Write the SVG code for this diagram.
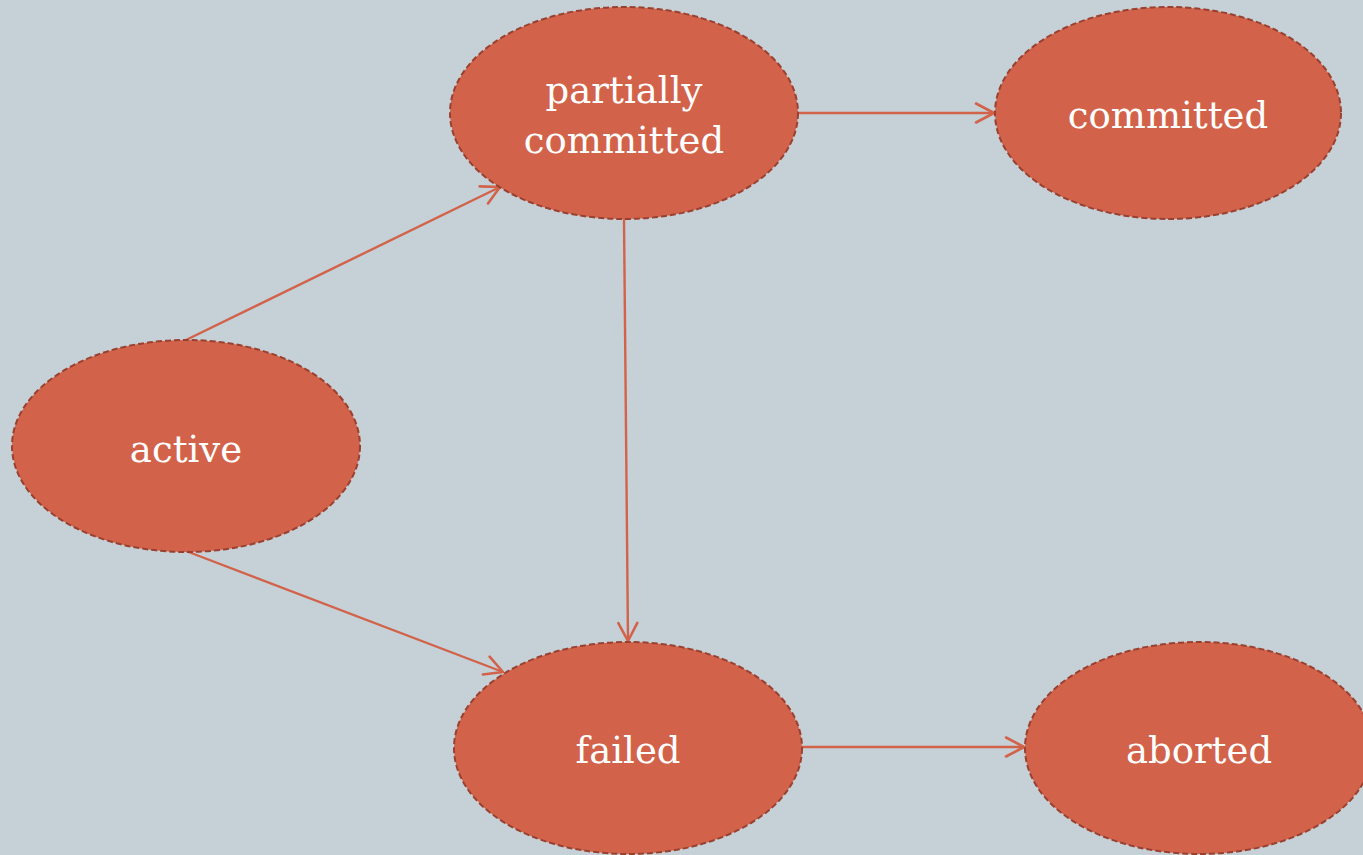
<svg xmlns="http://www.w3.org/2000/svg" width="1363" height="855" viewBox="0 0 1363 855">
  <style>
    .state ellipse { fill: #D2634A; stroke: #9A4030; stroke-width: 2; stroke-dasharray: 6 3; }
    .state text { fill: #FFFFFF; font-family: "DejaVu Serif", "Liberation Serif", serif; font-size: 37px; text-anchor: middle; }
    .edge { stroke: #D2634A; stroke-width: 2.4; fill: none; marker-end: url(#open-arrow); }
  </style>
  <defs>
    <!-- open chevron arrowhead, drawn in user units -->
    <marker id="open-arrow" viewBox="0 0 22 22" refX="20" refY="11" markerWidth="22" markerHeight="22" markerUnits="userSpaceOnUse" orient="auto" overflow="visible">
      <path d="M2,1.5 L20,11 L2,20.5" fill="none" stroke="#D2634A" stroke-width="2.6" stroke-linecap="round" stroke-linejoin="round"/>
    </marker>
  </defs>
  <rect width="1363" height="855" fill="#C5D1D7"/>

  <g id="connectors">
    <line class="edge" x1="186" y1="340" x2="500" y2="187"/>
    <line class="edge" x1="186" y1="551" x2="503" y2="672"/>
    <line class="edge" x1="624" y1="219" x2="628" y2="641"/>
    <line class="edge" x1="798" y1="113" x2="994" y2="113"/>
    <line class="edge" x1="802" y1="747" x2="1024" y2="747"/>
  </g>

  <g id="partially-committed" class="state">
    <ellipse cx="624" cy="113" rx="174" ry="106"/>
    <text x="624" y="103">partially</text>
    <text x="624" y="153">committed</text>
  </g>
  <g id="committed" class="state">
    <ellipse cx="1168" cy="113" rx="173" ry="106"/>
    <text x="1168" y="128">committed</text>
  </g>
  <g id="active" class="state">
    <ellipse cx="186" cy="446" rx="174" ry="106"/>
    <text x="186" y="462">active</text>
  </g>
  <g id="failed" class="state">
    <ellipse cx="628" cy="748" rx="174" ry="106"/>
    <text x="628" y="763">failed</text>
  </g>
  <g id="aborted" class="state">
    <ellipse cx="1199" cy="748" rx="174" ry="106"/>
    <text x="1199" y="763">aborted</text>
  </g>
</svg>
